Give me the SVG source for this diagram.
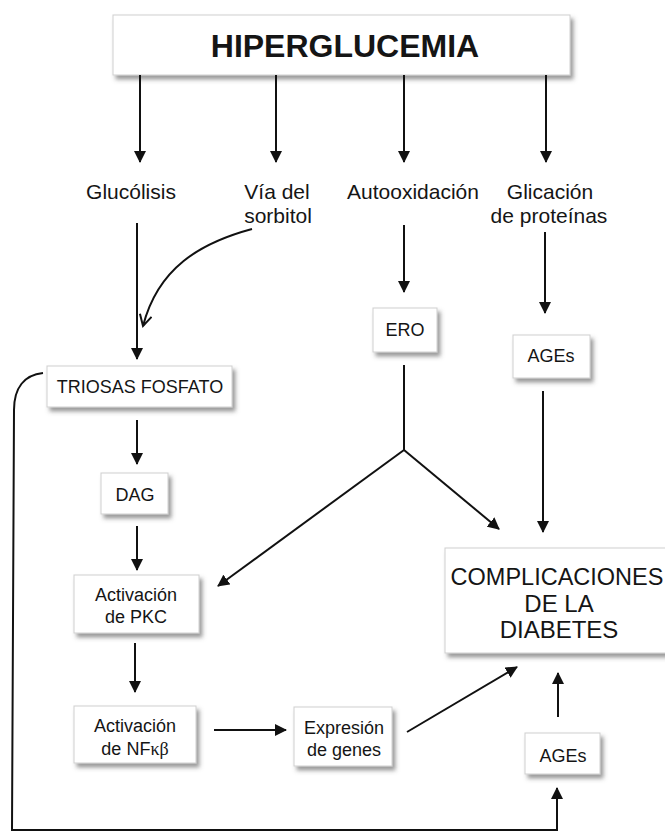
<svg xmlns="http://www.w3.org/2000/svg" width="665" height="834" viewBox="0 0 665 834">
<style>
text{font-family:"Liberation Sans",Arial,sans-serif;fill:#151515;text-anchor:middle}
.lbl{font-size:21px}
.bx{font-size:18px}
.big{font-size:24px}
.box{fill:#fff;stroke:#cfcfcf;stroke-width:1;filter:url(#sh)}
.ln{fill:none;stroke:#111;stroke-width:2}
</style>
<defs>
<filter id="sh" x="-20%" y="-20%" width="150%" height="160%">
<feDropShadow dx="3" dy="4" stdDeviation="2" flood-color="#555" flood-opacity="0.6"/>
</filter>
<marker id="ah" markerWidth="12" markerHeight="12" viewBox="0 0 12 12" refX="11" refY="6" orient="auto" markerUnits="userSpaceOnUse">
<path d="M0,0 L12,6 L0,12 Z" fill="#111"/>
</marker>
<marker id="av" markerWidth="14" markerHeight="14" viewBox="0 0 14 14" refX="12" refY="7" orient="auto" markerUnits="userSpaceOnUse">
<path d="M1,1 L12,7 L1,13" fill="none" stroke="#111" stroke-width="2"/>
</marker>
</defs>
<rect width="665" height="834" fill="#fff"/>

<g id="hiperglucemia">
<rect class="box" x="113" y="15" width="457" height="60"/>
<text x="345" y="57" style="font-size:32px;font-weight:bold">HIPERGLUCEMIA</text>
</g>
<g id="glucolisis"><text class="lbl" x="131" y="199">Glucólisis</text></g>
<g id="sorbitol"><text class="lbl" x="277" y="199">Vía del</text><text class="lbl" x="278" y="223">sorbitol</text></g>
<g id="autooxidacion"><text class="lbl" x="413" y="199">Autooxidación</text></g>
<g id="glicacion"><text class="lbl" x="550" y="199">Glicación</text><text class="lbl" x="549" y="223">de proteínas</text></g>

<g id="triosas"><rect class="box" x="47" y="366" width="185" height="41"/><text class="bx" x="140" y="393">TRIOSAS FOSFATO</text></g>
<g id="dag"><rect class="box" x="101" y="473" width="67" height="41"/><text class="bx" x="135" y="501">DAG</text></g>
<g id="pkc"><rect class="box" x="74" y="575" width="125" height="58"/><text class="bx" x="136" y="601">Activación</text><text class="bx" x="136" y="623">de PKC</text></g>
<g id="nfkb"><rect class="box" x="74" y="706" width="122" height="57"/><text class="bx" x="135" y="732">Activación</text><text class="bx" x="135" y="755">de NF<tspan style="font-family:'Liberation Serif','DejaVu Serif',serif">κβ</tspan></text></g>
<g id="expresion"><rect class="box" x="294" y="707" width="98" height="59"/><text class="bx" x="344" y="734">Expresión</text><text class="bx" x="344" y="756">de genes</text></g>
<g id="ero"><rect class="box" x="373" y="308" width="64" height="44"/><text class="bx" x="405" y="336">ERO</text></g>
<g id="ages1"><rect class="box" x="513" y="335" width="77" height="43"/><text class="bx" x="551" y="362">AGEs</text></g>
<g id="ages2"><rect class="box" x="525" y="733" width="75" height="41"/><text class="bx" x="563" y="762">AGEs</text></g>
<g id="complicaciones"><rect class="box" x="445" y="548" width="235" height="105"/>
<text class="big" x="557" y="585" style="font-size:23.5px">COMPLICACIONES</text>
<text class="big" x="559" y="612">DE LA</text>
<text class="big" x="559" y="638">DIABETES</text></g>

<g id="connectors">
<line class="ln" x1="140" y1="75" x2="140" y2="162" marker-end="url(#ah)"/>
<line class="ln" x1="276" y1="75" x2="276" y2="162" marker-end="url(#ah)"/>
<line class="ln" x1="404" y1="75" x2="404" y2="162" marker-end="url(#ah)"/>
<line class="ln" x1="546" y1="75" x2="546" y2="162" marker-end="url(#ah)"/>
<line class="ln" x1="137" y1="223" x2="137" y2="359" marker-end="url(#ah)"/>
<path class="ln" d="M252,229 C200,243 158,268 143,326" marker-end="url(#av)"/>
<line class="ln" x1="404" y1="225" x2="404" y2="292" marker-end="url(#ah)"/>
<line class="ln" x1="545" y1="232" x2="545" y2="313" marker-end="url(#ah)"/>
<line class="ln" x1="137" y1="420" x2="137" y2="464" marker-end="url(#ah)"/>
<line class="ln" x1="137" y1="526" x2="137" y2="570" marker-end="url(#ah)"/>
<line class="ln" x1="135" y1="643" x2="135" y2="692" marker-end="url(#ah)"/>
<line class="ln" x1="214" y1="730" x2="286" y2="730" marker-end="url(#ah)"/>
<line class="ln" x1="407" y1="732" x2="517" y2="667" marker-end="url(#ah)"/>
<line class="ln" x1="404" y1="365" x2="404" y2="450"/>
<line class="ln" x1="404" y1="450" x2="499" y2="529" marker-end="url(#ah)"/>
<line class="ln" x1="404" y1="450" x2="218" y2="586" marker-end="url(#ah)"/>
<line class="ln" x1="543" y1="391" x2="543" y2="532" marker-end="url(#ah)"/>
<line class="ln" x1="558" y1="717" x2="558" y2="673" marker-end="url(#ah)"/>
<path class="ln" d="M43,373 C24,375 14,388 14,410 L12,830 L557,830 L557,788" marker-end="url(#ah)"/>
</g>
</svg>
